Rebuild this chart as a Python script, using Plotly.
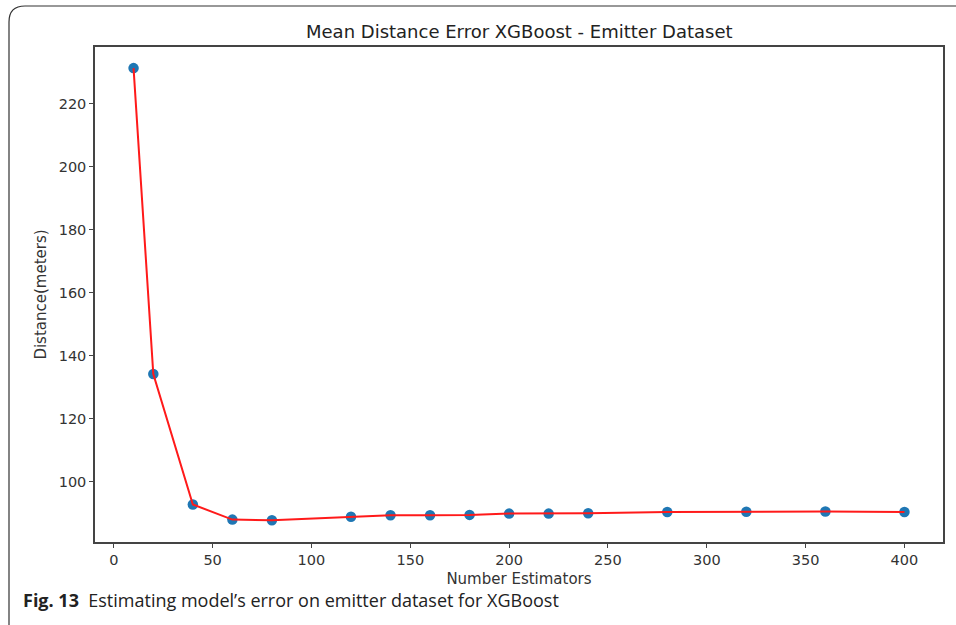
import plotly.graph_objects as go

n_estimators = [10, 20, 40, 60, 80, 120, 140, 160, 180, 200, 220, 240, 280, 320, 360, 400]
distance_m = [231.2, 134.2, 92.8, 88.0, 87.8, 88.9, 89.4, 89.4, 89.5, 89.9, 89.9, 90.0, 90.4, 90.5, 90.6, 90.4]

x_ticks = [0, 50, 100, 150, 200, 250, 300, 350, 400]
y_ticks = [100, 120, 140, 160, 180, 200, 220]

W, H = 956, 625
L, R, T, B = 95, 943, 47, 542

def px(xp):
    return (xp - L) / (R - L)

def py(yp):
    return (B - yp) / (B - T)

fig = go.Figure()
fig.add_trace(go.Scatter(x=n_estimators, y=distance_m, mode="markers",
                         marker=dict(color="#1f77b4", size=10.5), showlegend=False))
fig.add_trace(go.Scatter(x=n_estimators, y=distance_m, mode="lines",
                         line=dict(color="#ff1a1a", width=2), showlegend=False))

axis_common = dict(showgrid=False, zeroline=False, showline=True, linecolor="#444",
                   linewidth=1.5, mirror=True, ticks="outside", ticklen=4,
                   tickcolor="#444", tickwidth=1.2,
                   tickfont=dict(family="DejaVu Sans", size=14.5, color="#333"))

fig.update_xaxes(range=[-9.5, 419.5], tickvals=x_ticks, **axis_common,
                 title=dict(text="Number Estimators", standoff=6,
                            font=dict(family="DejaVu Sans", size=15, color="#333")))
fig.update_yaxes(range=[80.9, 237.9], tickvals=y_ticks, **axis_common,
                 title=dict(text="Distance(meters)", standoff=8,
                            font=dict(family="DejaVu Sans", size=15, color="#333")))

# rounded frame around the figure
x0, y0, x1, y1, r = 9, 6, 975, 640, 16
path = (f"M {px(x0)},{py(y0 + r)} "
        f"Q {px(x0)},{py(y0)} {px(x0 + r)},{py(y0)} "
        f"L {px(x1)},{py(y0)} "
        f"L {px(x1)},{py(y1)} "
        f"L {px(x0 + r)},{py(y1)} "
        f"Q {px(x0)},{py(y1)} {px(x0)},{py(y1 - r)} Z")
fig.add_shape(type="path", path=path, xref="paper", yref="paper",
              line=dict(color="#333", width=1.2), fillcolor="rgba(0,0,0,0)", layer="below")

fig.add_annotation(text="Mean Distance Error XGBoost - Emitter Dataset",
                   xref="paper", yref="paper", x=0.5, y=py(31), xanchor="center", yanchor="middle",
                   showarrow=False, font=dict(family="DejaVu Sans", size=18, color="#222"))

fig.add_annotation(text="<b>Fig. 13</b>  Estimating model’s error on emitter dataset for XGBoost",
                   xref="paper", yref="paper", x=px(21), y=py(600), xanchor="left", yanchor="middle",
                   showarrow=False, font=dict(family="Open Sans", size=18, color="#222"))

fig.update_layout(width=W, height=H, margin=dict(l=L, r=W - R, t=T, b=H - B),
                  plot_bgcolor="white", paper_bgcolor="white")

fig.write_html("out.html")
